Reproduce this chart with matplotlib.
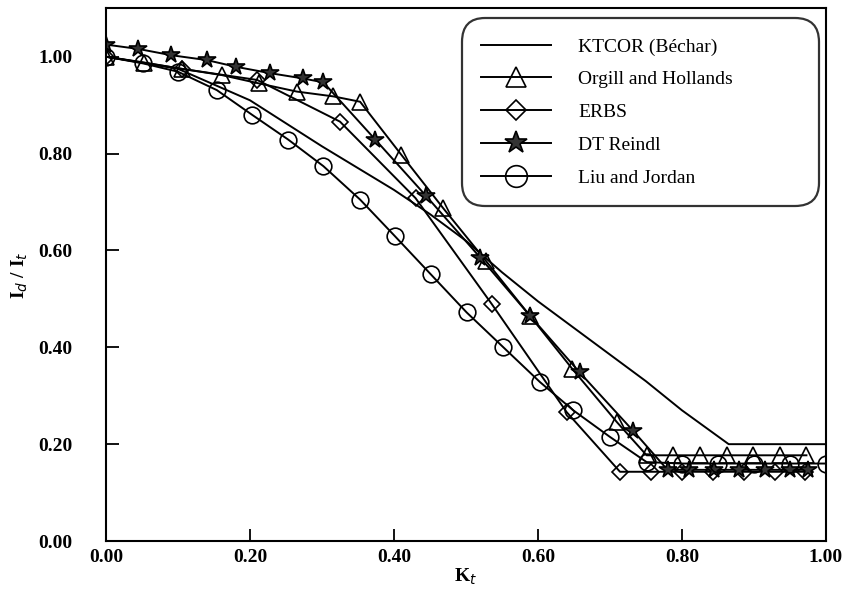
import matplotlib
matplotlib.use("Agg")
import matplotlib.pyplot as plt

# KTCOR (Béchar) - plain line
kt_ktcor = [0.0, 0.10, 0.20, 0.30, 0.40, 0.45, 0.50, 0.55, 0.60, 0.65, 0.70, 0.75, 0.80, 0.865, 1.0]
y_ktcor = [1.0, 0.975, 0.91, 0.815, 0.725, 0.675, 0.62, 0.555, 0.495, 0.44, 0.385, 0.33, 0.27, 0.20, 0.20]

# Orgill and Hollands - triangles
kt_oh = [0.0, 0.053, 0.105, 0.161, 0.212, 0.265, 0.316, 0.353, 0.41, 0.468, 0.528, 0.589, 0.648, 0.71,
         0.751, 0.788, 0.825, 0.862, 0.899, 0.936, 0.973]
y_oh = [1.0, 0.988, 0.975, 0.962, 0.945, 0.928, 0.918, 0.907, 0.798, 0.688, 0.578, 0.465, 0.355, 0.245,
        0.177, 0.177, 0.177, 0.177, 0.177, 0.177, 0.177]

# ERBS - diamonds
kt_erbs = [0.0, 0.105, 0.21, 0.325, 0.43, 0.536, 0.64, 0.714, 0.757, 0.80, 0.843, 0.886, 0.929, 0.971]
y_erbs = [1.0, 0.975, 0.952, 0.866, 0.708, 0.489, 0.266, 0.143, 0.143, 0.143, 0.143, 0.143, 0.143, 0.143]

# DT Reindl - stars
kt_dt = [0.0, 0.045, 0.091, 0.14, 0.181, 0.228, 0.274, 0.302, 0.374, 0.445, 0.52, 0.589, 0.658, 0.732,
         0.78, 0.81, 0.845, 0.88, 0.915, 0.95, 0.975]
y_dt = [1.025, 1.016, 1.003, 0.993, 0.979, 0.966, 0.955, 0.947, 0.829, 0.712, 0.585, 0.465, 0.348, 0.228,
        0.147, 0.147, 0.147, 0.147, 0.147, 0.147, 0.147]

# Liu and Jordan - circles
kt_lj = [0.0, 0.052, 0.10, 0.154, 0.203, 0.253, 0.302, 0.353, 0.401, 0.451, 0.501, 0.552, 0.603, 0.649,
         0.70, 0.751, 0.80, 0.85, 0.90, 0.95, 1.0]
y_lj = [1.0, 0.986, 0.969, 0.931, 0.88, 0.829, 0.774, 0.705, 0.63, 0.551, 0.472, 0.40, 0.328, 0.27,
        0.215, 0.163, 0.16, 0.16, 0.16, 0.16, 0.16]

labels = ["KTCOR (Béchar)", "Orgill and Hollands", "ERBS", "DT Reindl", "Liu and Jordan"]
xticks = [0.0, 0.2, 0.4, 0.6, 0.8, 1.0]
yticks = [0.0, 0.2, 0.4, 0.6, 0.8, 1.0]

plt.rcParams['font.family'] = ['Liberation Serif', 'DejaVu Serif']

fig = plt.figure(figsize=(8.43, 5.90), dpi=100)
ax = fig.add_axes([0.1257, 0.083, 0.854, 0.903])

lw = 1.4
ax.plot(kt_ktcor, y_ktcor, color='black', lw=lw, label=labels[0])
ax.plot(kt_oh, y_oh, color='black', lw=lw, marker='^', ms=11, mfc='none', mec='black', mew=1.2, label=labels[1])
ax.plot(kt_erbs, y_erbs, color='black', lw=lw, marker='D', ms=8, mfc='none', mec='black', mew=1.2, label=labels[2])
ax.plot(kt_dt, y_dt, color='black', lw=lw, marker='*', ms=13, mfc='#333333', mec='black', mew=1.2, label=labels[3])
ax.plot(kt_lj, y_lj, color='black', lw=lw, marker='o', ms=12, mfc='none', mec='black', mew=1.2, label=labels[4])

ax.set_xlim(0, 1.0)
ax.set_ylim(0, 1.10)
ax.set_xticks(xticks)
ax.set_yticks(yticks)
ax.set_xticklabels([f"{v:.2f}" for v in xticks], fontsize=14, fontweight='bold')
ax.set_yticklabels([f"{v:.2f}" for v in yticks], fontsize=14, fontweight='bold')
ax.tick_params(direction='in', length=9, width=1.3)
ax.tick_params(axis='x', pad=6)
ax.tick_params(axis='y', pad=24)
for s in ax.spines.values():
    s.set_linewidth(1.5)

ax.set_xlabel(r"K$_t$", fontsize=14, fontweight='bold', labelpad=0)
ax.set_ylabel(r"I$_d$ / I$_t$", fontsize=14, fontweight='bold', labelpad=6)

leg = ax.legend(loc='upper left', bbox_to_anchor=(0.494, 0.63, 0.496, 0.351), bbox_transform=ax.transAxes,
                mode='expand', borderaxespad=0.0, fancybox=True, frameon=True,
                handlelength=3.6, handletextpad=1.4,
                labelspacing=0.78, borderpad=1.0, markerscale=1.3,
                prop={'family': 'Liberation Serif', 'size': 14})
leg.get_frame().set_edgecolor('black')
leg.get_frame().set_linewidth(1.6)
leg.get_frame().set_boxstyle('round', pad=0, rounding_size=1.2)

fig.savefig("out.png", dpi=100)
